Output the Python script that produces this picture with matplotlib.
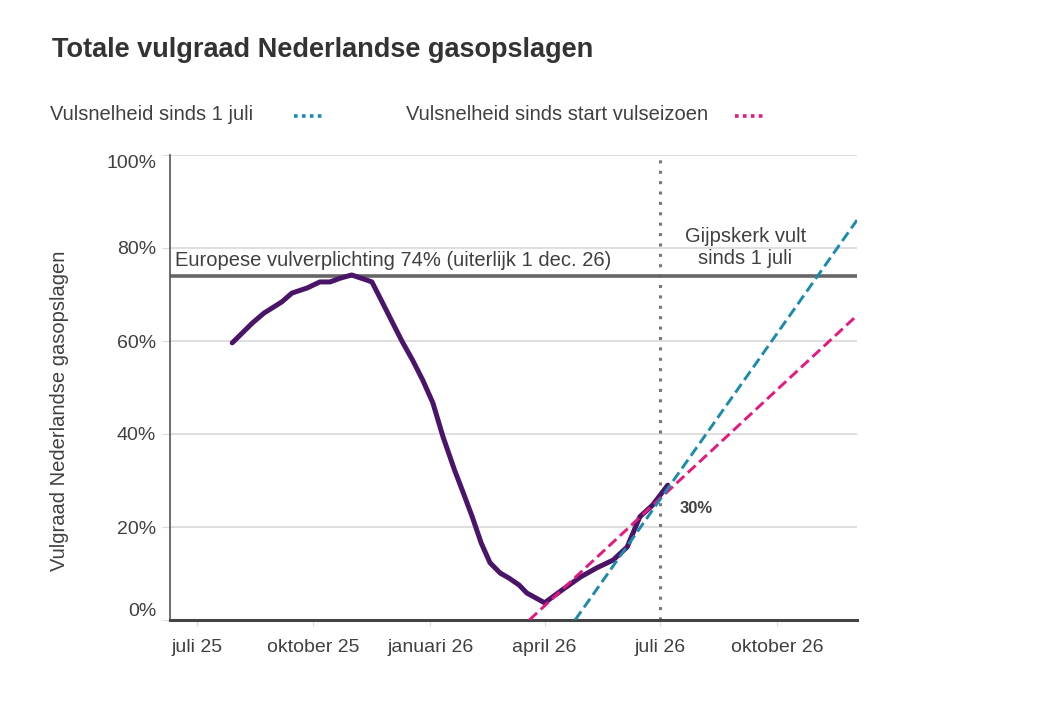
import matplotlib
matplotlib.use('Agg')
import matplotlib.pyplot as plt
import matplotlib.dates as mdates
from matplotlib.lines import Line2D
import numpy as np

plt.rcParams['font.family'] = ['Liberation Sans', 'DejaVu Sans']

# filling degree of Dutch gas storage
fill_dates = ['2025-07-29', '2025-08-14', '2025-08-23', '2025-09-06', '2025-09-14',
              '2025-09-26', '2025-10-06', '2025-10-14', '2025-10-22', '2025-10-31',
              '2025-11-12', '2025-11-16', '2025-11-22', '2025-12-04', '2025-12-10',
              '2025-12-18', '2025-12-26', '2026-01-03', '2026-01-11', '2026-01-20',
              '2026-01-27', '2026-02-03', '2026-02-10', '2026-02-17', '2026-02-25',
              '2026-03-04', '2026-03-12', '2026-03-18', '2026-04-01', '2026-04-15',
              '2026-04-29', '2026-05-12', '2026-05-25', '2026-06-05', '2026-06-15',
              '2026-06-25', '2026-07-07']
fill_values = [59.6, 63.9, 66.0, 68.4, 70.3,
               71.4, 72.7, 72.7, 73.5, 74.2,
               73.1, 72.7, 69.5, 63.0, 59.8,
               55.9, 51.6, 46.7, 39.4, 32.3,
               27.3, 22.2, 16.6, 12.3, 10.1,
               9.0, 7.5, 5.8, 3.7, 6.5,
               9.2, 11.2, 12.9, 15.7, 22.2,
               24.7, 29.0]

# trend lines
trend_juli_dates = ['2026-04-25', '2026-12-03']
trend_juli_values = [0, 86]
trend_start_dates = ['2026-03-20', '2026-12-03']
trend_start_values = [0, 65.5]

obligation = 74
marker_date = '2026-07-01'
tick_dates = ['2025-07-01', '2025-10-01', '2026-01-01', '2026-04-01', '2026-07-01', '2026-10-01']
tick_labels = ['juli 25', 'oktober 25', 'januari 26', 'april 26', 'juli 26', 'oktober 26']
ytick_vals = [0, 20, 40, 60, 80, 100]

purple = '#4a1569'
blue = '#1a8aad'
pink = '#e6177f'
txt = '#404040'

W, H = 1058, 713
fig = plt.figure(figsize=(W / 100, H / 100), dpi=100)
ax = fig.add_axes([170 / W, 1 - 620 / H, (857 - 170) / W, (620 - 155) / H])

def d(x):
    return mdates.date2num(np.array(x, dtype='datetime64[D]'))

ax.set_xlim(d('2025-06-10'), d('2026-12-03'))
ax.set_ylim(0, 100)

for v in ytick_vals[1:]:
    ax.axhline(v, color='#d9d9d9', lw=1.2, zorder=0)

ax.axhline(obligation, color='#666666', lw=2.6, zorder=2)
ax.text(d('2025-06-14'), obligation + 1.2, 'Europese vulverplichting 74% (uiterlijk 1 dec. 26)',
        fontsize=14.5, color=txt, va='bottom', ha='left')

ax.axvline(d(marker_date), color='#777777', lw=2.2, linestyle=(0, (1, 2.4)), zorder=1)

ax.plot(d(fill_dates), fill_values, color=purple, lw=3.6, solid_capstyle='round',
        solid_joinstyle='round', zorder=3)
ax.plot(d(trend_start_dates), trend_start_values, color=pink, lw=2.1,
        linestyle=(0, (3.6, 1.7)), zorder=4)
ax.plot(d(trend_juli_dates), trend_juli_values, color=blue, lw=2.1,
        linestyle=(0, (3.6, 1.7)), zorder=5)

ax.text(d('2026-07-16'), 24, '30%', fontsize=12, fontweight='bold', color=txt,
        va='center', ha='left')
ax.text(d('2026-09-06'), 80, 'Gijpskerk vult\nsinds 1 juli', fontsize=14.5, color=txt,
        ha='center', va='center', linespacing=1.2)

ax.set_yticks(ytick_vals)
ax.set_yticklabels([f'{v}%' for v in ytick_vals])
for lbl, v in zip(ax.get_yticklabels(), ytick_vals):
    if v == 100:
        lbl.set_va('top')
    elif v == 0:
        lbl.set_va('bottom')
ax.tick_params(axis='y', length=6, color='#d9d9d9', labelsize=14, labelcolor=txt, pad=4)

ax.set_xticks(d(tick_dates))
ax.set_xticklabels(tick_labels)
ax.tick_params(axis='x', length=4, color='#d9d9d9', labelsize=14, labelcolor=txt, pad=10)

for s in ['top', 'right']:
    ax.spines[s].set_visible(False)
ax.spines['left'].set_color('#555555')
ax.spines['left'].set_linewidth(1.2)
ax.spines['bottom'].set_color('#444444')
ax.spines['bottom'].set_linewidth(2.2)

ax.set_ylabel('Vulgraad Nederlandse gasopslagen', fontsize=14.5, color=txt)
ax.yaxis.set_label_coords(-(170 - 69) / (857 - 170), 0.45)

fig.text(52 / W, 1 - 50 / H, 'Totale vulgraad Nederlandse gasopslagen', fontsize=19.5,
         fontweight='bold', color='#333333', va='center', ha='left')

fig.text(50 / W, 1 - 115 / H, 'Vulsnelheid sinds 1 juli', fontsize=14.5, color=txt,
         va='center', ha='left')
fig.text(406 / W, 1 - 115 / H, 'Vulsnelheid sinds start vulseizoen', fontsize=14.5, color=txt,
         va='center', ha='left')
fig.add_artist(Line2D([294 / W, 324 / W], [1 - 116 / H, 1 - 116 / H], color=blue, lw=2.6,
                      linestyle=(0, (1, 1.2)), transform=fig.transFigure))
fig.add_artist(Line2D([735 / W, 765 / W], [1 - 116 / H, 1 - 116 / H], color=pink, lw=2.6,
                      linestyle=(0, (1, 1.2)), transform=fig.transFigure))

fig.savefig('out.png', dpi=100)
